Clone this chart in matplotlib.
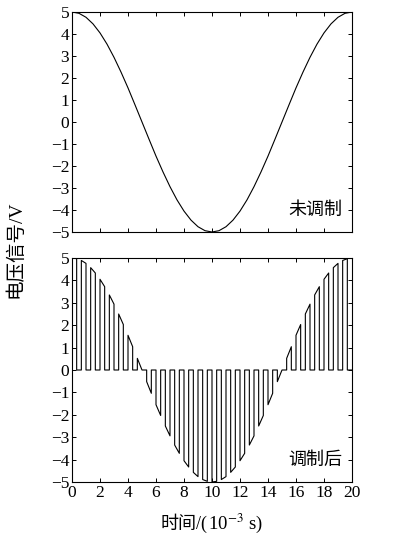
import matplotlib
matplotlib.use("Agg")
import matplotlib.pyplot as plt

plt.rcParams['font.family'] = ['Liberation Serif', 'Noto Sans CJK SC']
plt.rcParams['mathtext.fontset'] = 'stix'

# unmodulated signal (ms, V), every 0.5 ms
t_sig = [0, 0.5, 1, 1.5, 2, 2.5, 3, 3.5, 4, 4.5, 5, 5.5, 6, 6.5, 7, 7.5, 8, 8.5, 9, 9.5,
         10, 10.5, 11, 11.5, 12, 12.5, 13, 13.5, 14, 14.5, 15, 15.5, 16, 16.5, 17, 17.5,
         18, 18.5, 19, 19.5, 20]
v_sig = [5.00, 4.94, 4.76, 4.46, 4.05, 3.54, 2.94, 2.27, 1.55, 0.78, 0.00, -0.78, -1.55,
         -2.27, -2.94, -3.54, -4.05, -4.46, -4.76, -4.94, -5.00, -4.94, -4.76, -4.46, -4.05,
         -3.54, -2.94, -2.27, -1.55, -0.78, 0.00, 0.78, 1.55, 2.27, 2.94, 3.54, 4.05, 4.46,
         4.76, 4.94, 5.00]

# modulated signal: pulse start times (ms), pulse width, heights at start and end
pulse_start = [0.000, 0.667, 1.333, 2.000, 2.667, 3.333, 4.000, 4.667, 5.333, 6.000,
               6.667, 7.333, 8.000, 8.667, 9.333, 10.000, 10.667, 11.333, 12.000, 12.667,
               13.333, 14.000, 14.667, 15.333, 16.000, 16.667, 17.333, 18.000, 18.667, 19.333]
pulse_width = 0.333
pulse_v0 = [5.00, 4.89, 4.57, 4.05, 3.35, 2.50, 1.55, 0.52, -0.52, -1.55,
            -2.50, -3.35, -4.05, -4.57, -4.89, -5.00, -4.89, -4.57, -4.05, -3.35,
            -2.50, -1.55, -0.52, 0.52, 1.55, 2.50, 3.35, 4.05, 4.57, 4.89]
pulse_v1 = [4.97, 4.76, 4.33, 3.72, 2.94, 2.03, 1.04, 0.00, -1.04, -2.03,
            -2.94, -3.72, -4.33, -4.76, -4.97, -4.97, -4.76, -4.33, -3.72, -2.94,
            -2.03, -1.04, 0.00, 1.04, 2.03, 2.94, 3.72, 4.33, 4.76, 4.97]

xticks = [0, 2, 4, 6, 8, 10, 12, 14, 16, 18, 20]
yticks = [-5, -4, -3, -2, -1, 0, 1, 2, 3, 4, 5]

# build the pulse train outline
px, py = [], []
for t0, a, b in zip(pulse_start, pulse_v0, pulse_v1):
    t1 = t0 + pulse_width
    px += [t0, t0, t1, t1]
    py += [0, a, b, 0]
px.append(20)
py.append(0)

fig = plt.figure(figsize=(3.95, 5.42), dpi=100)
ax1 = fig.add_axes([72 / 395, 1 - 232 / 542, 280 / 395, 220 / 542])
ax2 = fig.add_axes([72 / 395, 1 - 482 / 542, 280 / 395, 224 / 542])

ax1.plot(t_sig, v_sig, color='black', lw=0.8)
ax2.plot(px, py, color='black', lw=0.8)

for ax in (ax1, ax2):
    ax.set_xlim(0, 20)
    ax.set_ylim(-5, 5)
    ax.set_xticks(xticks)
    ax.set_yticks(yticks)
    ax.tick_params(direction='in', top=True, right=True, length=3, width=0.7,
                   labelsize=12.5, pad=2)
    for s in ax.spines.values():
        s.set_linewidth(0.8)

ax1.set_xticklabels([])
ax1.text(0.965, 0.06, '未调制', transform=ax1.transAxes, ha='right', va='bottom', fontsize=13)
ax2.text(0.965, 0.06, '调制后', transform=ax2.transAxes, ha='right', va='bottom', fontsize=13)

# x label in two pieces so the CJK part keeps its font and the exponent uses mathtext
ybase = 1 - 529 / 542
lab1 = fig.text(208 / 395, ybase, '时间/(', ha='right', va='baseline', fontsize=13)
fig.canvas.draw()
bb = lab1.get_window_extent()
fig.text(bb.x1 / fig.bbox.width, ybase, '10$^{-3}$ s)', ha='left', va='baseline',
         fontsize=13.5)
fig.text(15 / 395, 1 - 249 / 542, '电压信号/V', rotation=90, ha='center', va='center',
         fontsize=14)

fig.savefig('out.png', dpi=100)
